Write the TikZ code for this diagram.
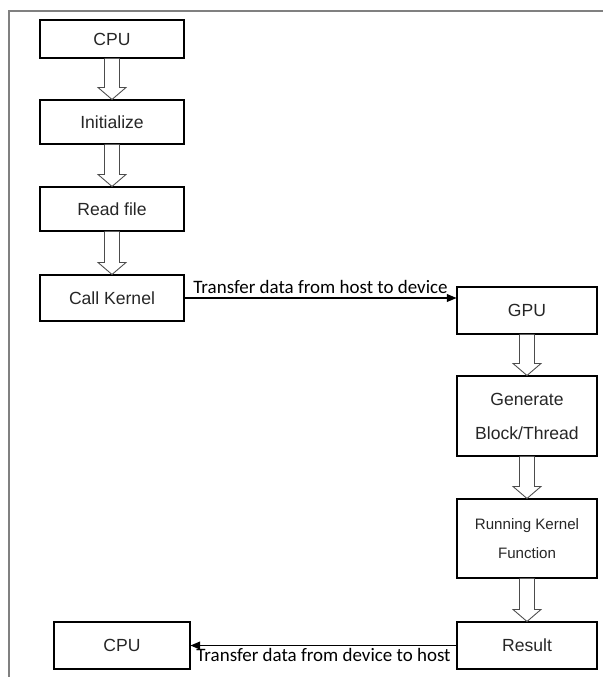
\documentclass[tikz,border=0pt]{standalone}
\usepackage{fontspec}
\setmainfont{Liberation Sans}
\newfontfamily\labelfont{Carlito}
\usetikzlibrary{arrows.meta, calc}
\tikzset{box/.style={draw, line width=0.6pt, minimum width=2.88cm, inner sep=0pt, align=center, text=black!85, font=\fontsize{10}{12}\selectfont}}
\tikzset{hollow/.style={draw=black!70, line width=0.5pt, fill=white}}
\tikzset{transfer/.style={-{Triangle[length=5.5pt, width=4.5pt]}, line width=0.6pt}}
\newcommand{\flowarrow}[2]{\draw[hollow] ($(#1.south)+(-7.5,0)$) -- ($(#2.north)+(-7.5,-12)$) -- ($(#2.north)+(-14,-12)$) -- (#2.north) -- ($(#2.north)+(14,-12)$) -- ($(#2.north)+(7.5,-12)$) -- ($(#1.south)+(7.5,0)$);}

\begin{document}
\begin{tikzpicture}[x=0.02cm, y=-0.02cm]
\useasboundingbox (0,0) rectangle (603,677);
\draw[gray, line width=0.8pt] (9,677) -- (9,11) -- (603,11);
% host side
\node[box, minimum height=0.76cm] (cpu) at (112,39) {CPU};
\node[box, minimum height=0.88cm] (init) at (112,122) {Initialize};
\node[box, minimum height=0.88cm] (read) at (112,209) {Read file};
\node[box, minimum height=0.92cm] (call) at (112,298) {Call Kernel};
% device side
\node[box, minimum width=2.8cm, minimum height=0.94cm] (gpu) at (527,310.5) {GPU};
\node[box, minimum width=2.8cm, minimum height=1.6cm, font=\fontsize{10}{19.3}\selectfont] (gen) at (527,416) {Generate\\Block/Thread};
\node[box, minimum width=2.8cm, minimum height=1.58cm, font=\fontsize{8.6}{16.4}\selectfont] (run) at (527,538.5) {Running Kernel\\Function};
\node[box, minimum width=2.8cm, minimum height=0.94cm] (result) at (527,645.5) {Result};
\node[box, minimum width=2.72cm, minimum height=0.94cm] (cpuback) at (122,645.5) {CPU};
\flowarrow{cpu}{init}
\flowarrow{init}{read}
\flowarrow{read}{call}
\flowarrow{gpu}{gen}
\flowarrow{gen}{run}
\flowarrow{run}{result}
\draw[transfer] (call.east) -- (call.east -| gpu.west) node[midway, above, inner sep=2pt, font=\labelfont\fontsize{10.8}{13}\selectfont]{Transfer data from host to device};
\draw[transfer] (result.west) -- (cpuback.east) node[midway, below, inner sep=1.5pt, font=\labelfont\fontsize{10.8}{13}\selectfont]{Transfer data from device to host};
\end{tikzpicture}
\end{document}
